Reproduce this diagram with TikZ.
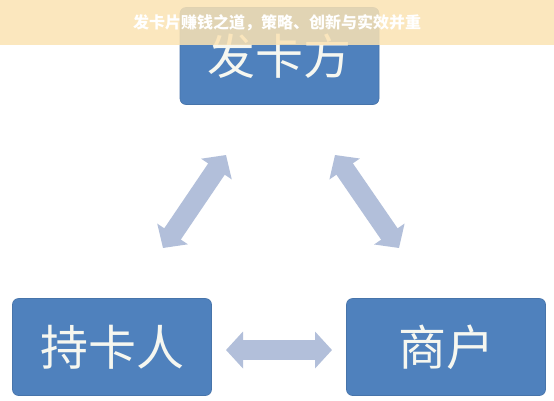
\documentclass[tikz,border=0pt]{standalone}
\usepackage{fontspec}
\newfontfamily\cjk{Noto Sans CJK SC}
\usetikzlibrary{arrows.meta}
\definecolor{boxblue}{HTML}{4F81BD}
\definecolor{arrowblue}{HTML}{B2BFDA}
\definecolor{banner}{HTML}{FBE3B3}
\definecolor{boxtext}{HTML}{F6F7F0}
\tikzset{
  party/.style={draw=boxblue!90!black, line width=0.6pt, fill=boxblue, rounded corners=6pt,
    minimum width=199pt, minimum height=97pt, inner sep=0pt,
    text=boxtext, font=\cjk\fontsize{48}{50}\selectfont},
  dbl/.style={line width=20pt, draw=arrowblue,
    {Triangle[width=36pt,length=17pt]}-{Triangle[width=36pt,length=17pt]}}
}
\begin{document}
\begin{tikzpicture}[x=1pt,y=-1pt]
\useasboundingbox (0,0) rectangle (554,400);
\fill[white] (0,0) rectangle (554,400);
\node[party] (issuer) at (279.5,56) {发卡方};
\node[party] (holder) at (112,347) {持卡人};
\node[party] (merchant) at (446,347) {商户};
\coordinate (a1) at (226,155);
\coordinate (a2) at (163,248);
\coordinate (b1) at (335,155);
\coordinate (b2) at (399,248);
\coordinate (c1) at (226,350);
\coordinate (c2) at (332,350);
\draw[dbl] (a1) -- (a2);
\draw[dbl] (b1) -- (b2);
\draw[dbl] (c1) -- (c2);
\fill[banner, opacity=0.85] (0,0) rectangle (554,45);
\node[text=white, font=\cjk\bfseries\fontsize{16}{18}\selectfont] (title) at (277,23) {发卡片赚钱之道，策略、创新与实效并重};
\end{tikzpicture}
\end{document}
